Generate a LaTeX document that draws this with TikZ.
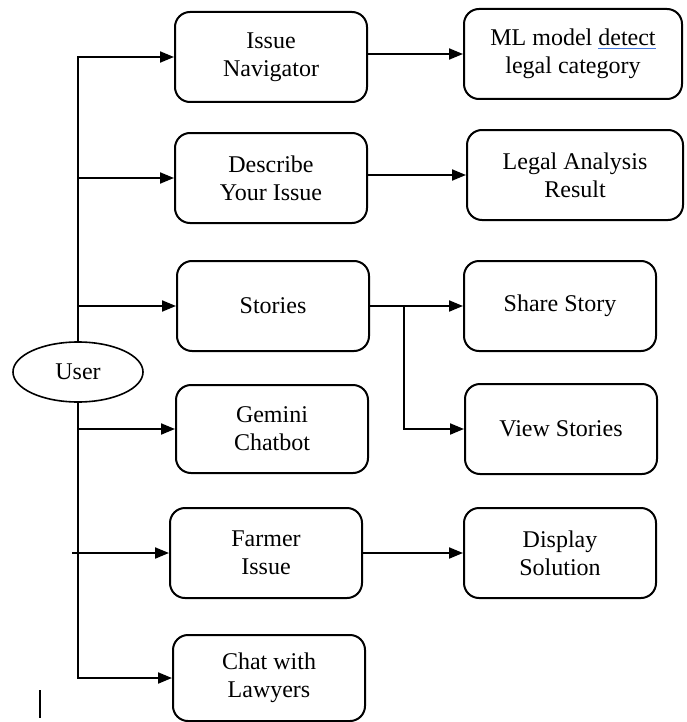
\documentclass[tikz,border=0pt]{standalone}
\usepackage{fontspec}
\setmainfont{Liberation Serif}
\usetikzlibrary{arrows.meta, positioning, shapes.geometric, calc}

\begin{document}
\begin{tikzpicture}[x=0.5pt, y=-0.5pt,
    box/.style={draw=black, line width=1pt, rounded corners=7.5pt, minimum width=96pt,
      minimum height=45pt, align=center, inner sep=2pt, font=\fontsize{12}{14}\selectfont},
    link/.style={line width=1pt, -{Triangle[length=7pt,width=5.5pt]}},
    wire/.style={line width=1pt}]
  \useasboundingbox (0,0) rectangle (686,722);
  % User
  \node[draw, ellipse, line width=0.8pt, minimum width=65pt, minimum height=30pt,
    inner sep=1pt, font=\fontsize{12}{14}\selectfont] (user) at (78,372) {User};
  % Features
  \node[box] (nav) at (271,57) {Issue\\Navigator};
  \node[box] (desc) at (271,178) {Describe\\Your Issue};
  \node[box] (stories) at (273,306) {Stories};
  \node[box, minimum height=44pt] (gemini) at (272,429) {Gemini\\Chatbot};
  \node[box] (farmer) at (266,553) {Farmer\\Issue};
  \node[box, minimum height=43pt] (lawyers) at (269,678) {Chat with\\Lawyers};
  % Results
  \node[box, minimum width=109pt] (ml) at (573,54)
    {ML model {\color[RGB]{70,120,220}\underline{\color{black}detect}}\\legal category};
  \node[box, minimum width=108pt] (legal) at (575,175) {Legal Analysis\\Result};
  \node[box] (share) at (560,306) {Share Story};
  \node[box] (view) at (561,429) {View Stories};
  \node[box] (display) at (560,553) {Display\\Solution};
  % Trunk
  \draw[link] (user.north) |- (nav.west);
  \draw[link] (user.north |- desc.west) -- (desc.west);
  \draw[link] (user.north |- stories.west) -- (stories.west);
  \draw[link] (user.south |- gemini.west) -- (gemini.west);
  \draw[link] ([xshift=-3pt]user.south |- farmer.west) -- (farmer.west);
  \draw[link] (user.south) |- (lawyers.west);
  % Branches
  \draw[link] (nav.east |- ml.west) -- (ml.west);
  \draw[link] (desc.east |- legal.west) -- (legal.west);
  \coordinate (fork) at ($(stories.east)!0.37!(share.west)$);
  \draw[link] (stories.east) -- (share.west);
  \draw[link] (fork) |- (view.west);
  \draw[link] (farmer.east) -- (display.west);
  % Cursor mark
  \draw[line width=0.6pt] (40,690) -- (40,718);
\end{tikzpicture}
\end{document}
